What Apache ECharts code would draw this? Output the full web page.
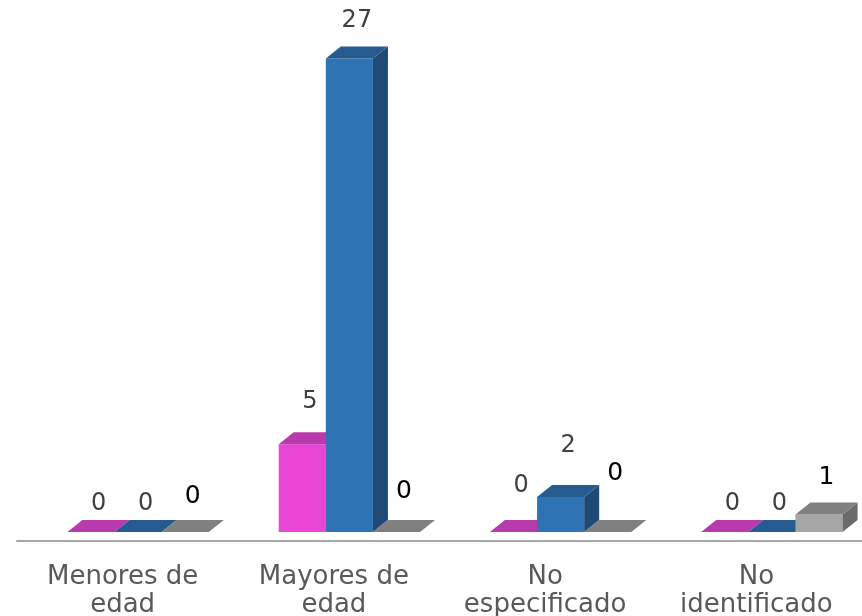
<!DOCTYPE html>
<html>
<head>
<meta charset="utf-8">
<script src="https://cdn.jsdelivr.net/npm/echarts@6/dist/echarts.min.js"></script>
<style>
  html, body { margin: 0; padding: 0; background: #fff; }
  #chart { width: 862px; height: 616px; }
</style>
</head>
<body>
<div id="chart"></div>
<script>
(function (window, document) {
    'use strict';

    var categories = ['Menores de\nedad', 'Mayores de\nedad', 'No\nespecificado', 'No\nidentificado'];
    var serieRosa = [0, 5, 0, 0];
    var serieAzul = [0, 27, 2, 0];
    var serieGris = [0, 0, 0, 1];

    // how far each value label sits above its bar (px), Excel placed them unevenly
    var liftRosa = [16, 31, 34, 16];
    var liftAzul = [16, 26, 39, 16];
    var liftGris = [24, 29, 47, 25];

    var style = [
        { front: '#e946d6', top: '#b83aad', side: '#9c2f92', label: '#404040', lift: liftRosa },
        { front: '#2e74b5', top: '#255b8f', side: '#1f4a75', label: '#404040', lift: liftAzul },
        { front: '#a5a5a5', top: '#808080', side: '#6b6b6b', label: '#000000', lift: liftGris }
    ];

    var series = [serieRosa, serieAzul, serieGris];
    var depthX = 15, depthY = 12, shift = 15.5;
    var font = 'DejaVu Sans';

    var data = [];
    categories.forEach(function (c, ci) {
        series.forEach(function (s, si) {
            data.push([ci, s[ci], si]);
        });
    });

    function renderItem(params, api) {
        var ci = api.value(0), val = api.value(1), si = api.value(2);
        var st = style[si];
        var base = api.coord([ci, 0]);
        var top = api.coord([ci, val]);
        var band = api.size([1, 0])[0];
        var w = band * 0.223;
        var x0 = base[0] + shift - 1.5 * w + si * w;
        var x1 = x0 + w;
        var yb = base[1], yt = top[1];
        var children = [];
        if (yb - yt > 0.5) {
            children.push({
                type: 'rect',
                shape: { x: x0, y: yt, width: w, height: yb - yt },
                style: { fill: st.front }
            });
            children.push({
                type: 'polygon',
                shape: { points: [[x1, yt], [x1 + depthX, yt - depthY], [x1 + depthX, yb - depthY], [x1, yb]] },
                style: { fill: st.side }
            });
        }
        children.push({
            type: 'polygon',
            shape: { points: [[x0, yt], [x0 + depthX, yt - depthY], [x1 + depthX, yt - depthY], [x1, yt]] },
            style: { fill: st.top }
        });
        children.push({
            type: 'text',
            style: {
                text: String(val),
                x: (x0 + x1) / 2 + depthX / 2,
                y: yt - depthY - st.lift[ci],
                align: 'center',
                verticalAlign: 'middle',
                fill: st.label,
                fontSize: si === 2 ? 25 : 24,
                fontFamily: font
            }
        });
        return { type: 'group', children: children };
    }

    var myChart = echarts.init(document.getElementById('chart'));
    myChart.setOption({
        animation: false,
        grid: { left: 17, right: 0, top: 6, bottom: 84, outerBoundsMode: 'none' },
        xAxis: {
            type: 'category',
            data: categories,
            offset: 9,
            axisLine: { onZero: false, lineStyle: { color: '#a6a6a6', width: 2 } },
            axisTick: { show: false },
            axisLabel: {
                color: '#595959',
                fontSize: 26,
                fontFamily: font,
                lineHeight: 28,
                margin: 22,
                interval: 0
            }
        },
        yAxis: {
            type: 'value',
            min: 0,
            max: 30,
            show: false,
            splitLine: { show: false }
        },
        series: [{
            type: 'custom',
            renderItem: renderItem,
            encode: { x: 0, y: 1 },
            data: data
        }]
    });
})(window, document);
</script>
</body>
</html>
